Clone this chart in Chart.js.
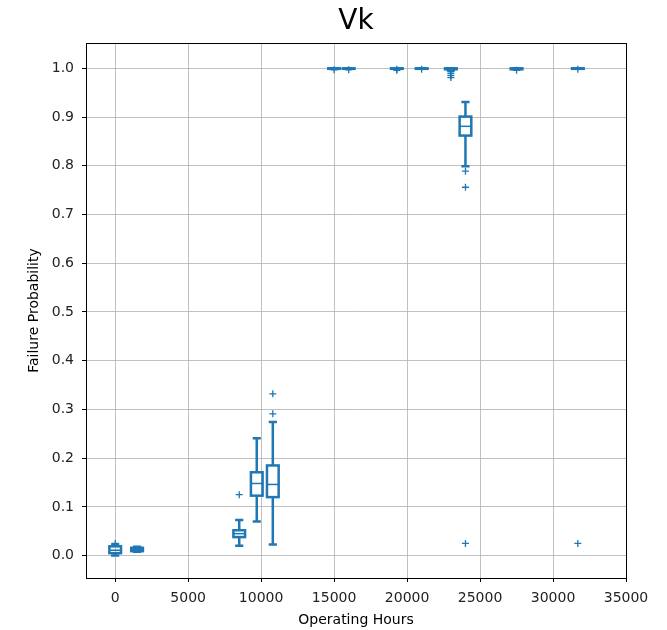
<!DOCTYPE html>
<html>
<head>
<meta charset="utf-8">
<script src="https://cdn.jsdelivr.net/npm/chart.js@4/dist/chart.umd.min.js"></script>
<style>
  body { margin: 0; background: #fff; }
  canvas { display: block; }
</style>
</head>
<body>
<canvas id="chart" width="667" height="630"></canvas>
<script>
// box positions (operating hours) and box stats
const positions = [0, 1500, 8500, 9700, 10800, 15000, 16000, 19300, 21000, 23000, 24000, 27500, 31700];
const whiskerLow = [0.000, 0.008, 0.020, 0.070, 0.023, 0.999, 0.999, 0.999, 0.999, 0.996, 0.799, 0.998, 0.999];
const quart1 = [0.005, 0.009, 0.038, 0.123, 0.120, 0.999, 0.999, 0.999, 0.999, 0.998, 0.862, 0.998, 0.999];
const medians = [0.011, 0.012, 0.045, 0.148, 0.146, 1.000, 1.000, 1.000, 1.000, 0.999, 0.881, 0.999, 1.000];
const quart3 = [0.019, 0.016, 0.052, 0.171, 0.185, 1.000, 1.000, 1.000, 1.000, 1.000, 0.901, 1.000, 1.000];
const whiskerHigh = [0.023, 0.018, 0.073, 0.241, 0.274, 1.000, 1.000, 1.000, 1.000, 1.000, 0.931, 1.000, 1.000];

// outliers
const flierX = [0, 8500, 10800, 10800, 15000, 16000, 19300, 19300, 21000, 23000, 23000, 23000, 23000, 24000, 24000, 24000, 27500, 31700, 31700];
const flierY = [0.025, 0.125, 0.291, 0.332, 0.997, 0.997, 0.996, 0.998, 0.998, 0.993, 0.989, 0.985, 0.981, 0.789, 0.756, 0.025, 0.996, 0.998, 0.025];

const xTicks = [0, 5000, 10000, 15000, 20000, 25000, 30000, 35000];
const yTicks = [0.0, 0.1, 0.2, 0.3, 0.4, 0.5, 0.6, 0.7, 0.8, 0.9, 1.0];

const chartTitle = 'Vk';
const boxWidth = 800;
const blue = '#1f77b4';
const fontFam = '"DejaVu Sans", sans-serif';

// draws the boxes with the chart scales
const boxPlugin = {
    id: 'boxes',
    afterDatasetsDraw(chart) {
        const ctx = chart.ctx;
        const xs = chart.scales.x, ys = chart.scales.y;
        ctx.save();
        ctx.strokeStyle = blue;
        positions.forEach((p, i) => {
            const xl = xs.getPixelForValue(p - boxWidth / 2);
            const xr = xs.getPixelForValue(p + boxWidth / 2);
            const xc = xs.getPixelForValue(p);
            const cl = xs.getPixelForValue(p - boxWidth * 0.35);
            const cr = xs.getPixelForValue(p + boxWidth * 0.35);
            const yq1 = ys.getPixelForValue(quart1[i]);
            const yq3 = ys.getPixelForValue(quart3[i]);
            const ym = ys.getPixelForValue(medians[i]);
            const ylo = ys.getPixelForValue(whiskerLow[i]);
            const yhi = ys.getPixelForValue(whiskerHigh[i]);
            ctx.lineWidth = 2.5;
            ctx.beginPath();
            // whiskers
            ctx.moveTo(xc, yq1); ctx.lineTo(xc, ylo);
            ctx.moveTo(xc, yq3); ctx.lineTo(xc, yhi);
            // caps
            ctx.moveTo(cl, ylo); ctx.lineTo(cr, ylo);
            ctx.moveTo(cl, yhi); ctx.lineTo(cr, yhi);
            ctx.stroke();
            ctx.strokeRect(xl, yq3, xr - xl, yq1 - yq3);
            ctx.lineWidth = 1.5;
            ctx.beginPath();
            ctx.moveTo(xl, ym); ctx.lineTo(xr, ym);
            ctx.stroke();
        });
        // frame around the plot
        const a = chart.chartArea;
        ctx.strokeStyle = '#000';
        ctx.lineWidth = 1;
        ctx.strokeRect(Math.round(a.left) + 0.5, Math.round(a.top) + 0.5, Math.round(a.right - a.left), Math.round(a.bottom - a.top));
        // title centred over the plot area
        ctx.fillStyle = '#000';
        ctx.font = '28px ' + fontFam;
        ctx.textAlign = 'center';
        ctx.textBaseline = 'middle';
        ctx.fillText(chartTitle, (a.left + a.right) / 2, 22);
        ctx.restore();
    }
};

new Chart(document.getElementById('chart'), {
    type: 'scatter',
    data: {
        datasets: [{
            data: flierX.map((x, i) => ({ x: x, y: flierY[i] })),
            pointStyle: 'cross',
            pointRadius: 3.5,
            borderWidth: 1.3,
            borderColor: blue,
            backgroundColor: blue
        }]
    },
    options: {
        responsive: false,
        animation: false,
        layout: { padding: { left: 0, right: 41, top: 43, bottom: 0 } },
        plugins: {
            legend: { display: false },
            tooltip: { enabled: false },
            title: { display: false }
        },
        scales: {
            x: {
                type: 'linear',
                min: -2000,
                max: 35000,
                afterFit: (s) => { s.height = 52; },
                afterBuildTicks: (s) => { s.ticks = xTicks.map(v => ({ value: v })); },
                grid: { color: '#b0b0b0', lineWidth: 0.8, tickColor: '#000', tickLength: 4, tickWidth: 1 },
                border: { color: '#000', width: 1 },
                ticks: {
                    color: '#222', font: { family: fontFam, size: 14 },
                    padding: 8, maxRotation: 0, autoSkip: false,
                    callback: (v) => String(v)
                },
                title: {
                    display: true, text: 'Operating Hours', color: '#000',
                    font: { family: fontFam, size: 14 }, padding: { top: 0, bottom: 1 }
                }
            },
            y: {
                type: 'linear',
                min: -0.046,
                max: 1.052,
                afterFit: (s) => { s.width = 86; },
                afterBuildTicks: (s) => { s.ticks = yTicks.map(v => ({ value: v })); },
                grid: { color: '#b0b0b0', lineWidth: 0.8, tickColor: '#000', tickLength: 4, tickWidth: 1 },
                border: { color: '#000', width: 1 },
                ticks: {
                    color: '#222', font: { family: fontFam, size: 14 },
                    padding: 8,
                    callback: (v) => v.toFixed(1)
                },
                title: {
                    display: true, text: 'Failure Probability', color: '#000',
                    font: { family: fontFam, size: 14 }, padding: { top: 26, bottom: 0 }
                }
            }
        }
    },
    plugins: [boxPlugin]
});
</script>
</body>
</html>
